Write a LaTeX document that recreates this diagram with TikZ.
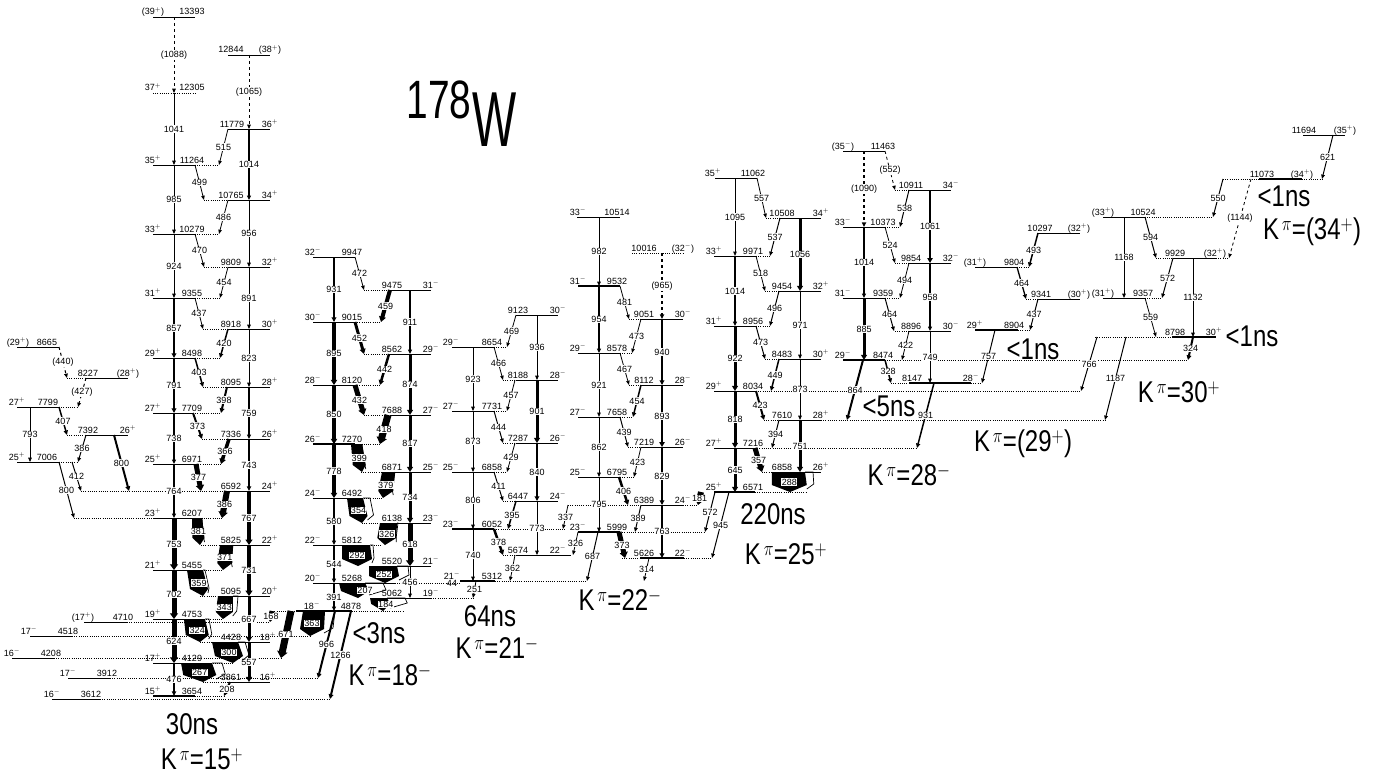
\documentclass[tikz,border=0pt]{standalone}
\usepackage{fontspec}
\setmainfont{Liberation Sans}
\usetikzlibrary{arrows.meta,calc}

\newcommand{\sP}{$^{+}$}
\newcommand{\sM}{$^{-}$}
\newcommand{\bigt}[1]{\scalebox{.8}[1]{\fontsize{30}{30}\selectfont #1}}
% level: energy, x1, x2, y, energy x, spin x, spin
\newcommand{\lev}[8][]{
  \coordinate (L#2) at (0,#5);
  \draw[levline,#1] (#3,#5) -- (#4,#5);
  \node[lvlab] (e#2) at (#6,#5-2) {#2};
  \node[lvlab] (s#2) at (#7,#5-2) {#8};
}
% dotted side of a level
\newcommand{\dl}[3]{\draw[dotl] (#2,0 |- L#1) -- (#3,0 |- L#1);}
% transition: from, x, to, x, width, label
\newcommand{\gam}[7][]{
  \draw[gamma,line width=#6pt,#1] (#3,0 |- L#2) -- node[glab] (g#2-#4) {#7} (#5,0 |- L#4);
}
% wide transition: from, left x, right x, to, tip x, right x of open part, label
\newcommand{\wide}[8][]{
  \pgfmathsetmacro{\wsft}{(#6-(#3+#4)/2)*.5}
  \pgfmathsetmacro{\wlow}{#3+\wsft-1}
  \pgfmathsetmacro{\whig}{#4+\wsft+1}
  \pgfmathsetmacro{\wopn}{#7+\wsft}
  \pgfmathsetmacro{\wmid}{(#3+#4)/2}
  \draw[conv] (#4,0 |- L#2) -- (#7,0 |- L#2) -- ($(\wopn,0 |- L#5)+(0,-8)$) -- ($(\whig,0 |- L#5)+(0,-3)$);
  \fill[black] (#3,0 |- L#2) -- (#4,0 |- L#2) -- ($(\whig,0 |- L#5)+(0,-7)$) -- (#6,0 |- L#5) -- ($(\wlow,0 |- L#5)+(0,-7)$) -- cycle;
  \path (\wmid,0 |- L#2) -- node[glab,#1] (g#2-#5) {#8} (#6,0 |- L#5);
}

\begin{document}
\begin{tikzpicture}[
    x=1pt, y=-1pt,
    levline/.style={line width=0.9pt},
    dotl/.style={line width=0.6pt, dash pattern=on 1pt off 1.2pt},
    gamma/.style={-{Triangle[length=4pt 0.35,width=2.5pt 1.1]}},
    conv/.style={line width=0.7pt},
    glab/.style={fill=white, inner sep=0.4pt, font=\fontsize{9}{9}\selectfont},
    lvlab/.style={anchor=base, inner sep=0pt, font=\fontsize{9}{9}\selectfont},
    band/.style={inner sep=0pt}
]
\useasboundingbox (0,0) rectangle (1392,776);

% bands 1 and 2
\lev{13393}{153}{195}{17}{192}{153}{(39\sP)}
\lev[dotl]{12305}{153}{195}{93}{192}{153}{37\sP}
\lev{11264}{153}{195}{165}{192}{153}{35\sP}
\lev{10279}{153}{195}{234}{192}{153}{33\sP}
\lev{9355}{153}{195}{298}{192}{153}{31\sP}
\lev{8498}{153}{195}{358}{192}{153}{29\sP}
\lev{7709}{153}{194}{413}{192}{153}{27\sP}
\lev{6971}{153}{196}{464}{192}{153}{25\sP}
\lev{6207}{153}{195}{518}{192}{153}{23\sP}
\lev{5455}{153}{195}{570}{192}{153}{21\sP}
\lev{4753}{153}{195}{619}{192}{153}{19\sP}
\lev{4129}{153}{195}{663}{192}{153}{17\sP}
\lev[line width=2.2pt]{3654}{153}{195}{696}{192}{153}{15\sP}
\lev{12844}{228}{270}{55}{231}{270}{(38\sP)}
\lev{11779}{228}{270}{129}{232}{270}{36\sP}
\lev{10765}{228}{270}{200}{231}{270}{34\sP}
\lev{9809}{228}{270}{267}{231}{270}{32\sP}
\lev{8918}{228}{270}{329}{231}{270}{30\sP}
\lev{8095}{228}{270}{387}{231}{270}{28\sP}
\lev{7336}{228}{270}{439}{231}{270}{26\sP}
\lev{6592}{228}{270}{491}{231}{270}{24\sP}
\lev{5825}{228}{270}{545}{231}{270}{22\sP}
\lev{5095}{228}{270}{596}{231}{270}{20\sP}
\lev{4428}{228}{270}{642}{231}{268}{18\sP}
\lev{3861}{228}{270}{682}{231}{268}{16\sP}
% left side
\lev{8665}{17}{59}{347}{47}{18}{(29\sP)}
\lev{8227}{85}{128}{378}{88}{128}{(28\sP)}
\lev{7799}{17}{59}{407}{48}{17}{27\sP}
\lev{7392}{85}{128}{435}{88}{128}{26\sP}
\lev{7006}{17}{59}{462}{47}{17}{25\sP}
\lev{4710}{84}{127}{622}{123}{83}{(17\sP)}
\lev{4518}{30}{72}{636}{68}{29}{17\sM}
\lev{4208}{12}{54}{658}{51}{12}{16\sM}
\lev{3912}{68}{110}{678}{107}{68}{17\sM}
\lev{3612}{52}{100}{699}{91}{52}{16\sM}
% bands 3 and 4
\lev{9947}{313}{355}{257}{352}{313}{32\sM}
\lev{9015}{313}{355}{322}{352}{313}{30\sM}
\lev{8120}{313}{355}{385}{352}{313}{28\sM}
\lev[line width=1.3pt]{7270}{313}{355}{444}{352}{313}{26\sM}
\lev{6492}{313}{355}{498}{352}{313}{24\sM}
\lev{5812}{313}{356}{545}{352}{313}{22\sM}
\lev{5268}{313}{395}{583}{352}{313}{20\sM}
\lev[line width=1.8pt]{4878}{296}{352}{611}{351}{312}{18\sM}
\lev{9475}{390}{431}{290}{392}{431}{31\sM}
\lev{8562}{390}{431}{354}{392}{431}{29\sM}
\lev{7688}{390}{431}{415}{392}{431}{27\sM}
\lev{6871}{390}{431}{472}{392}{431}{25\sM}
\lev{6138}{390}{431}{523}{392}{431}{23\sM}
\lev{5520}{370}{431}{566}{392}{431}{21\sM}
\lev{5062}{370}{431}{598}{392}{431}{19\sM}
% bands 9 and 10, the upper 6858 gets its own name
\lev{11062}{715}{757}{178}{753}{713}{35\sP}
\lev{9971}{714}{756}{256}{753}{714}{33\sP}
\lev{8956}{714}{756}{326}{753}{714}{31\sP}
\lev{8034}{714}{756}{391}{753}{714}{29\sP}
\lev{7216}{714}{755}{448}{753}{714}{27\sP}
\lev[line width=2.5pt]{6571}{714}{755}{492}{753}{714}{25\sP}
\lev{10508}{780}{821}{218}{782}{821}{34\sP}
\lev{9454}{779}{821}{291}{782}{821}{32\sP}
\lev{8483}{779}{821}{359}{782}{821}{30\sP}
\lev{7610}{779}{821}{420}{782}{821}{28\sP}
\lev{6858}{772}{821}{472}{782}{821}{26\sP}
\coordinate (LB6858) at (0,472);
% bands 5 and 6
\lev{8654}{452}{494}{347}{492}{451}{29\sM}
\lev{7731}{452}{494}{411}{492}{451}{27\sM}
\lev{6858}{452}{494}{472}{492}{451}{25\sM}
\lev[line width=1.2pt]{6052}{452}{494}{529}{492}{451}{23\sM}
\lev[line width=2.2pt]{5312}{460}{495}{581}{492}{452}{21\sM}
\lev{9123}{516}{558}{315}{518}{558}{30\sM}
\lev{8188}{516}{558}{380}{518}{558}{28\sM}
\lev{7287}{516}{558}{443}{518}{558}{26\sM}
\lev{6447}{516}{558}{501}{518}{558}{24\sM}
\lev{5674}{517}{571}{555}{518}{558}{22\sM}
% bands 7 and 8
\lev{10514}{577}{620}{217}{617}{578}{33\sM}
\lev[line width=1.4pt]{9532}{578}{620}{286}{617}{578}{31\sM}
\lev{8578}{578}{620}{353}{617}{578}{29\sM}
\lev{7658}{578}{620}{417}{617}{578}{27\sM}
\lev{6795}{578}{620}{477}{617}{578}{25\sM}
\lev[line width=1.3pt]{5999}{578}{620}{532}{617}{578}{23\sM}
\lev[dotl]{10016}{632}{683}{253}{644}{683}{(32\sM)}
\lev{9051}{641}{683}{319}{644}{683}{30\sM}
\lev{8112}{641}{683}{385}{644}{683}{28\sM}
\lev{7219}{641}{683}{447}{644}{683}{26\sM}
\lev{6389}{641}{683}{505}{644}{683}{24\sM}
\lev[line width=1.6pt]{5626}{640}{684}{558}{644}{683}{22\sM}
% bands 11 and 12
\lev{11463}{843}{885}{151}{883}{843}{(35\sM)}
\lev{10373}{843}{885}{227}{883}{843}{33\sM}
\lev{9359}{843}{885}{298}{883}{843}{31\sM}
\lev[line width=2.2pt]{8474}{843}{885}{360}{883}{843}{29\sM}
\lev{10911}{909}{951}{190}{911}{951}{34\sM}
\lev{9854}{909}{951}{263}{911}{951}{32\sM}
\lev{8896}{909}{951}{331}{911}{951}{30\sM}
\lev[line width=2.2pt]{8147}{909}{971}{383}{912}{971}{28\sM}
% right side
\lev{10297}{1038}{1080}{233}{1040}{1079}{(32\sP)}
\lev{9804}{975}{1017}{267}{1014}{975}{(31\sP)}
\lev{9341}{1038}{1080}{299}{1041}{1079}{(30\sP)}
\lev[line width=2pt]{8904}{975}{1018}{330}{1014}{975}{29\sP}
\lev{10524}{1103}{1145}{217}{1143}{1103}{(33\sP)}
\lev{9357}{1103}{1145}{298}{1143}{1103}{(31\sP)}
\lev{9929}{1173}{1216}{258}{1175}{1215}{(32\sP)}
\lev[line width=2.2pt]{8798}{1172}{1216}{337}{1175}{1214}{30\sP}
\lev[line width=2.2pt]{11073}{1259}{1302}{179}{1262}{1302}{(34\sP)}
\lev{11694}{1303}{1345}{135}{1304}{1345}{(35\sP)}

% dotted ends
\dl{11264}{195}{219} \dl{10765}{204}{228} \dl{10279}{195}{219} \dl{9809}{204}{228}
\dl{9355}{195}{220} \dl{8918}{203}{228} \dl{8498}{195}{220} \dl{8095}{203}{228}
\dl{7709}{193}{221} \dl{7336}{202}{229} \dl{6971}{196}{221} \dl{6592}{81}{228}
\dl{6207}{74}{222} \dl{5825}{201}{228} \dl{5455}{195}{222} \dl{5095}{200}{228}
\dl{4753}{195}{223} \dl{4710}{127}{270} \dl{4518}{72}{310} \dl{4428}{200}{228}
\dl{4208}{54}{281} \dl{3912}{110}{318} \dl{4129}{195}{233} \dl{3861}{203}{228}
\dl{3612}{100}{330} \dl{3654}{195}{224}
\dl{8227}{67}{85} \dl{7799}{59}{78} \dl{7392}{67}{85} \dl{7006}{59}{78}
\dl{9475}{364}{390} \dl{9015}{355}{381} \dl{8562}{364}{390} \dl{8120}{355}{380}
\dl{7688}{364}{388} \dl{7270}{355}{380} \dl{6871}{361}{388} \dl{6492}{355}{383}
\dl{6138}{362}{385} \dl{5812}{356}{382} \dl{5268}{395}{460}
\dl{5062}{431}{473} \dl{4878}{352}{403} \dl{4878}{270}{296}
\dl{8654}{494}{507} \dl{8188}{503}{516} \dl{7731}{494}{507} \dl{7287}{503}{516}
\dl{6858}{494}{507} \dl{6447}{503}{516} \dl{6052}{494}{566} \dl{5674}{503}{517}
\dl{5312}{495}{587} \dl{5999}{620}{705} \dl{6389}{568}{641} \dl{6389}{683}{698}
\dl{5626}{622}{640} \dl{5626}{684}{712} \dl{9051}{629}{641} \dl{8578}{620}{632}
\dl{8112}{629}{641} \dl{7658}{620}{633} \dl{7219}{628}{641} \dl{6795}{620}{634}
\dl{9971}{756}{770} \dl{9454}{765}{779} \dl{8956}{756}{770} \dl{8483}{765}{779}
\dl{8034}{756}{1081} \dl{7610}{764}{779} \dl{7610}{821}{1105} \dl{7216}{755}{917}
\dl{B6858}{762}{772} \dl{10508}{766}{780} \dl{6571}{755}{806}
\dl{9359}{885}{900} \dl{10373}{885}{900} \dl{10911}{895}{909} \dl{9854}{895}{909}
\dl{8896}{895}{909} \dl{8474}{885}{1187} \dl{8147}{891}{909} \dl{8147}{971}{982}
\dl{9804}{1017}{1030} \dl{9341}{1026}{1038} \dl{8904}{1018}{1030} \dl{10524}{1145}{1213}
\dl{9929}{1156}{1173} \dl{9929}{1216}{1229} \dl{9357}{1145}{1162} \dl{8798}{1095}{1172}
\dl{11073}{1223}{1259} \dl{11073}{1302}{1322}

% band 1
\gam[dashed]{13393}{174}{12305}{174}{1}{(1088)}
\gam{12305}{174}{11264}{174}{1}{1041}
\gam{11264}{174}{10279}{174}{1}{985}
\gam{10279}{174}{9355}{174}{1}{924}
\gam{9355}{174}{8498}{174}{2}{857}
\gam{8498}{174}{7709}{174}{2}{791}
\gam{7709}{174}{6971}{174}{1.4}{738}
\gam{6971}{174}{6207}{174}{1.4}{764}
\gam{6207}{174}{5455}{174}{5}{753}
\gam{5455}{174}{4753}{174}{5}{702}
\gam{4753}{174}{4129}{174}{5}{624}
\gam{4129}{174}{3654}{174}{1.5}{476}
% band 2
\gam[dashed]{12844}{249}{11779}{249}{1}{(1065)}
\gam{11779}{249}{10765}{249}{1.2}{1014}
\gam{10765}{249}{9809}{249}{1}{956}
\gam{9809}{249}{8918}{249}{1}{891}
\gam{8918}{249}{8095}{249}{1}{823}
\gam{8095}{249}{7336}{249}{1.2}{759}
\gam{7336}{249}{6592}{249}{1.5}{743}
\gam{6592}{249}{5825}{249}{4}{767}
\gam{5825}{249}{5095}{249}{4}{731}
\gam{5095}{249}{4428}{249}{3}{667}
\gam{4428}{249}{3861}{249}{3}{557}
% between 1 and 2
\gam{11779}{228}{11264}{219}{0.8}{515}
\gam{11264}{195}{10765}{204}{0.8}{499}
\gam{10765}{228}{10279}{219}{0.8}{486}
\gam{10279}{195}{9809}{204}{0.8}{470}
\gam{9809}{228}{9355}{220}{0.8}{454}
\gam{9355}{195}{8918}{203}{0.8}{437}
\gam{8918}{228}{8498}{220}{1.5}{420}
\gam{8498}{195}{8095}{203}{1.5}{403}
\gam{8095}{227}{7709}{221}{2}{398}
\gam{7709}{193}{7336}{202}{2}{373}
\gam{7336}{229}{6971}{221}{3.5}{366}
\gam{6971}{196}{6592}{201}{5}{377}
\gam{6592}{227}{6207}{222}{6}{386}
\wide{6207}{192}{202}{5825}{200}{202}{381}
\wide{5825}{220}{233}{5455}{223}{233}{371}
\wide{5455}{187}{203}{5095}{203}{205}{359}
\wide{5095}{218}{233}{4753}{223}{238}{343}
\wide{4753}{184}{205}{4428}{200}{209}{324}
\wide{4428}{212}{238}{4129}{233}{245}{300}
\wide{4129}{181}{212}{3861}{203}{222}{267}
\gam{3861}{230}{3654}{224}{2}{208}
% left side
\gam[dashed]{8665}{59}{8227}{67}{1}{(440)}
\gam[dashed]{8227}{86}{7799}{78}{1}{(427)}
\gam{7799}{30}{7006}{30}{1}{793}
\gam{7799}{59}{7392}{67}{1.5}{407}
\gam{7392}{86}{7006}{78}{1}{386}
\gam{7392}{114}{6592}{129}{2}{800}
\gam{7006}{72}{6592}{81}{1}{412}
\gam{7006}{59}{6207}{74}{1}{800}
% bands 3 and 4
\gam{9947}{334}{9015}{334}{2}{931}
\gam{9015}{334}{8120}{334}{3.5}{895}
\gam{8120}{334}{7270}{334}{3.5}{850}
\gam{7270}{334}{6492}{334}{3.5}{778}
\gam{6492}{334}{5812}{334}{1.2}{580}
\gam{5812}{334}{5268}{334}{1.2}{544}
\gam{5268}{334}{4878}{334}{1.2}{391}
\gam{9475}{410}{8562}{410}{1.2}{911}
\gam{8562}{410}{7688}{410}{3}{874}
\gam{7688}{410}{6871}{410}{3}{817}
\gam{6871}{410}{6138}{410}{3}{734}
\gam{6138}{410}{5520}{410}{5}{618}
\gam{5520}{410}{5062}{410}{1}{456}
\gam{9947}{355}{9475}{364}{0.8}{472}
\gam{9475}{390}{9015}{381}{4}{459}
\gam{9015}{355}{8562}{364}{3}{452}
\gam{8562}{389}{8120}{380}{2.5}{442}
\gam{8120}{355}{7688}{364}{5}{432}
\gam{7688}{388}{7270}{380}{7}{418}
\wide{7270}{351}{362}{6871}{362}{362}{399}
\wide{6871}{382}{395}{6492}{383}{395}{379}
\wide{6492}{347}{363}{6138}{362}{370}{354}
\wide{6138}{380}{397}{5812}{385}{398}{326}
\wide{5812}{342}{370}{5520}{358}{373}{292}
\wide{5520}{369}{397}{5268}{385}{408}{252}
\wide[xshift=10pt]{5268}{339}{365}{5062}{358}{383}{207}
\wide[xshift=5pt]{5062}{370}{387}{4878}{383}{405}{184}
\gam{4878}{272}{4710}{270}{5}{168}
\gam{4878}{291}{4208}{281}{7}{671}
\wide{4878}{303}{325}{4518}{310}{335}{363}
\gam{4878}{335}{3912}{318}{2}{966}
\gam{4878}{351}{3612}{330}{2}{1266}
% bands 5 and 6
\gam{8654}{473}{7731}{473}{1}{923}
\gam{7731}{473}{6858}{473}{1}{873}
\gam{6858}{473}{6052}{473}{1}{806}
\gam{6052}{473}{5312}{473}{1}{740}
\gam{9123}{537}{8188}{537}{1}{936}
\gam{8188}{537}{7287}{537}{3}{901}
\gam{7287}{537}{6447}{537}{2}{840}
\gam{6447}{537}{5674}{537}{1}{773}
\gam{9123}{516}{8654}{507}{0.8}{469}
\gam{8654}{494}{8188}{503}{0.8}{466}
\gam{8188}{515}{7731}{507}{0.8}{457}
\gam{7731}{494}{7287}{503}{1}{444}
\gam{7287}{515}{6858}{507}{0.8}{429}
\gam{6858}{494}{6447}{503}{1}{411}
\gam{6447}{516}{6052}{508}{1.5}{395}
\gam{6052}{494}{5674}{503}{2.5}{378}
\gam{5674}{515}{5312}{510}{0.8}{362}
\gam{5312}{476}{5062}{473}{0.8}{251}
% bands 7 and 8
\gam{10514}{599}{9532}{599}{1}{982}
\gam{9532}{599}{8578}{599}{1.3}{954}
\gam{8578}{599}{7658}{599}{0.8}{921}
\gam{7658}{599}{6795}{599}{1}{862}
\gam{6795}{599}{5999}{599}{1}{795}
\gam{5999}{598}{5312}{587}{1}{687}
\gam[dashed]{10016}{662}{9051}{662}{1.5}{(965)}
\gam{9051}{662}{8112}{662}{2}{940}
\gam{8112}{662}{7219}{662}{2.5}{893}
\gam{7219}{662}{6389}{662}{2}{829}
\gam{6389}{662}{5626}{662}{2}{763}
\gam{9532}{620}{9051}{629}{0.8}{481}
\gam{9051}{641}{8578}{632}{0.8}{473}
\gam{8578}{620}{8112}{629}{0.8}{467}
\gam{8112}{641}{7658}{633}{1.5}{454}
\gam{7658}{620}{7219}{628}{1}{439}
\gam{7219}{641}{6795}{634}{0.8}{423}
\gam{6795}{619}{6389}{628}{2.5}{406}
\gam{6389}{641}{5999}{635}{1}{389}
\gam{5999}{619}{5626}{625}{5}{373}
\gam{5626}{649}{5312}{644}{0.8}{314}
\gam{6389}{568}{6052}{563}{0.8}{337}
\gam{5999}{578}{5674}{573}{0.8}{326}
% bands 9 and 10
\gam{11062}{735}{9971}{735}{0.8}{1095}
\gam{9971}{735}{8956}{735}{1.3}{1014}
\gam{8956}{735}{8034}{735}{3}{922}
\gam{8034}{735}{7216}{735}{3}{818}
\gam{7216}{735}{6571}{735}{3}{645}
\gam{6571}{701}{6389}{698}{6}{181}
\gam{6571}{715}{5999}{705}{1}{572}
\gam{6571}{729}{5626}{712}{1}{945}
\gam{10508}{800}{9454}{800}{3}{1056}
\gam{9454}{800}{8483}{800}{1}{971}
\gam{8483}{800}{7610}{800}{1}{873}
\gam{7610}{800}{B6858}{800}{3}{751}
\gam{11062}{757}{10508}{766}{0.8}{557}
\gam{10508}{780}{9971}{770}{1}{537}
\gam{9971}{756}{9454}{765}{0.8}{518}
\gam{9454}{779}{8956}{770}{1}{496}
\gam{8956}{756}{8483}{765}{1}{473}
\gam{8483}{779}{8034}{771}{1.5}{449}
\gam{8034}{756}{7610}{764}{2}{423}
\gam{7610}{779}{7216}{772}{1}{394}
\gam{7216}{755}{B6858}{762}{5}{357}
\wide{B6858}{772}{805}{6571}{790}{813}{288}
% bands 11 and 12
\gam[dashed]{11463}{864}{10373}{864}{1.5}{(1090)}
\gam{10373}{864}{9359}{864}{1.3}{1014}
\gam{9359}{864}{8474}{864}{3}{885}
\gam{8474}{863}{7610}{847}{2}{864}
\gam{10911}{930}{9854}{930}{2.5}{1061}
\gam{9854}{930}{8896}{930}{1.2}{958}
\gam{8896}{930}{8147}{930}{1}{749}
\gam{8147}{934}{7216}{917}{1.5}{931}
\gam[dashed]{11463}{885}{10911}{895}{0.8}{(552)}
\gam{10911}{909}{10373}{900}{1}{538}
\gam{10373}{885}{9854}{895}{0.8}{524}
\gam{9854}{909}{9359}{900}{0.8}{494}
\gam{9359}{885}{8896}{894}{1}{464}
\gam{8896}{909}{8474}{902}{0.8}{422}
\gam{8474}{885}{8147}{891}{1.5}{328}
\gam{8904}{995}{8147}{982}{1}{757}
\gam{8798}{1097}{8034}{1081}{1}{766}
\gam{8798}{1126}{7610}{1105}{1}{1187}
% right side
\gam{10297}{1038}{9804}{1029}{1.5}{493}
\gam{9804}{1017}{9341}{1026}{1.3}{464}
\gam{9341}{1038}{8904}{1030}{1}{437}
\gam{10524}{1124}{9357}{1124}{1}{1168}
\gam{10524}{1145}{9929}{1156}{1}{594}
\gam{9929}{1173}{9357}{1162}{1}{572}
\gam{9929}{1193}{8798}{1193}{1}{1132}
\gam{9357}{1145}{8798}{1156}{0.8}{559}
\gam{8798}{1193}{8474}{1188}{2}{324}
\gam{11073}{1223}{10524}{1213}{1}{550}
\gam[dashed]{11073}{1251}{9929}{1229}{0.8}{(1144)}
\gam{11694}{1333}{11073}{1322}{1}{621}

\node[lvlab] (m44) at (452,586) {44};

% big labels
\node[band] (nucl) at (439,100) {\scalebox{.72}[1]{\fontsize{54}{54}\selectfont 178}};
\node[band] (nuclw) at (495,120) {\scalebox{.6}[1]{\fontsize{78}{78}\selectfont W}};
\node[band] (t15) at (192,724) {\bigt{30ns}};
\node[band] (k15) at (202,759) {\bigt{K$^{\,\pi}$=15$^{+}$}};
\node[band] (t18) at (379,633) {\bigt{<3ns}};
\node[band] (k18) at (390,675) {\bigt{K$^{\,\pi}$=18$^{-}$}};
\node[band] (t21) at (490,616) {\bigt{64ns}};
\node[band] (k21) at (497,648) {\bigt{K$^{\,\pi}$=21$^{-}$}};
\node[band] (k22) at (620,600) {\bigt{K$^{\,\pi}$=22$^{-}$}};
\node[band] (t25) at (773,514) {\bigt{220ns}};
\node[band] (k25) at (786,554) {\bigt{K$^{\,\pi}$=25$^{+}$}};
\node[band] (t28) at (889,406) {\bigt{<5ns}};
\node[band] (k28) at (909,475) {\bigt{K$^{\,\pi}$=28$^{-}$}};
\node[band] (k29) at (1023,444) {\bigt{K$^{\,\pi}$=(29$^{+}$)}};
\node[band] (t29) at (1033,349) {\bigt{<1ns}};
\node[band] (t30) at (1252,336) {\bigt{<1ns}};
\node[band] (k30) at (1179,392) {\bigt{K$^{\,\pi}$=30$^{+}$}};
\node[band] (t34) at (1284,196) {\bigt{<1ns}};
\node[band] (k34) at (1312,232) {\bigt{K$^{\,\pi}$=(34$^{+}$)}};
\end{tikzpicture}
\end{document}
